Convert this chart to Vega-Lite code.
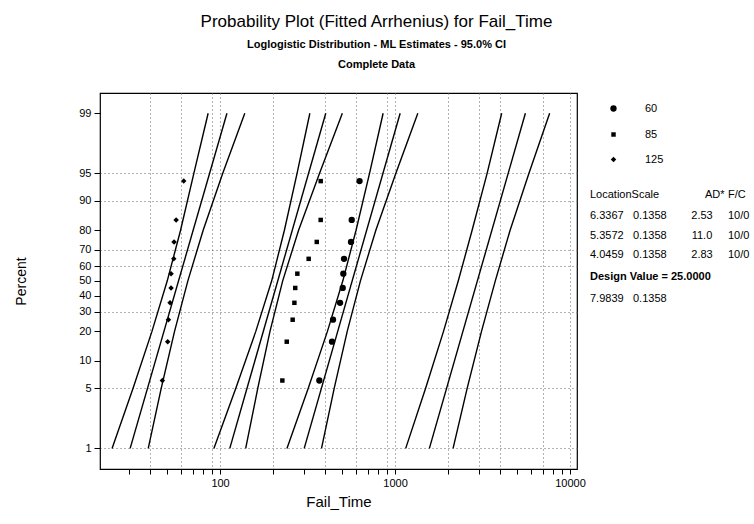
{
  "$schema": "https://vega.github.io/schema/vega-lite/v6.json",
  "width": 477,
  "height": 376,
  "autosize": {"type": "none"},
  "padding": {"left": 100, "top": 93, "right": 177, "bottom": 55},
  "background": "white",
  "title": {
    "text": "Probability Plot (Fitted Arrhenius) for Fail_Time",
    "subtitle": ["Loglogistic Distribution - ML Estimates - 95.0% CI", "Complete Data"],
    "anchor": "middle",
    "frame": "group",
    "dx": 38,
    "offset": 22,
    "font": "Liberation Sans",
    "fontSize": 17,
    "fontWeight": "normal",
    "color": "black",
    "subtitleFont": "Liberation Sans",
    "subtitleFontSize": 11,
    "subtitleFontWeight": "bold",
    "subtitleColor": "black",
    "subtitleLineHeight": 20,
    "subtitlePadding": 8
  },
  "datasets": {
    "pts": [
      {"stress": "125", "time": 46.8, "pct": 6.10},
      {"stress": "125", "time": 50.2, "pct": 15.85},
      {"stress": "125", "time": 50.7, "pct": 25.61},
      {"stress": "125", "time": 51.8, "pct": 35.37},
      {"stress": "125", "time": 52.5, "pct": 45.12},
      {"stress": "125", "time": 52.5, "pct": 54.88},
      {"stress": "125", "time": 54.4, "pct": 64.63},
      {"stress": "125", "time": 54.6, "pct": 74.39},
      {"stress": "125", "time": 56.1, "pct": 84.15},
      {"stress": "125", "time": 62.0, "pct": 93.90},
      {"stress": "85", "time": 227, "pct": 6.10},
      {"stress": "85", "time": 240.5, "pct": 15.85},
      {"stress": "85", "time": 260, "pct": 25.61},
      {"stress": "85", "time": 266, "pct": 35.37},
      {"stress": "85", "time": 269, "pct": 45.12},
      {"stress": "85", "time": 276.5, "pct": 54.88},
      {"stress": "85", "time": 321, "pct": 64.63},
      {"stress": "85", "time": 357, "pct": 74.39},
      {"stress": "85", "time": 376, "pct": 84.15},
      {"stress": "85", "time": 376, "pct": 93.90},
      {"stress": "60", "time": 369.4, "pct": 6.10},
      {"stress": "60", "time": 436.5, "pct": 15.85},
      {"stress": "60", "time": 442.3, "pct": 25.61},
      {"stress": "60", "time": 485.1, "pct": 35.37},
      {"stress": "60", "time": 502.5, "pct": 45.12},
      {"stress": "60", "time": 506.5, "pct": 54.88},
      {"stress": "60", "time": 511.2, "pct": 64.63},
      {"stress": "60", "time": 560.5, "pct": 74.39},
      {"stress": "60", "time": 565.7, "pct": 84.15},
      {"stress": "60", "time": 626.9, "pct": 93.90}
    ],
    "lines": [
      {"series": "125 lower", "time": 24.14, "pct": 1},
      {"series": "125 lower", "time": 31.83, "pct": 5},
      {"series": "125 lower", "time": 40.81, "pct": 20},
      {"series": "125 lower", "time": 49.92, "pct": 50},
      {"series": "125 lower", "time": 59.47, "pct": 80},
      {"series": "125 lower", "time": 70.83, "pct": 95},
      {"series": "125 lower", "time": 85.5, "pct": 99},
      {"series": "125 fit", "time": 30.63, "pct": 1},
      {"series": "125 fit", "time": 109.5, "pct": 99},
      {"series": "125 upper", "time": 38.86, "pct": 1},
      {"series": "125 upper", "time": 46.13, "pct": 5},
      {"series": "125 upper", "time": 54.94, "pct": 20},
      {"series": "125 upper", "time": 65.46, "pct": 50},
      {"series": "125 upper", "time": 80.07, "pct": 80},
      {"series": "125 upper", "time": 103.5, "pct": 95},
      {"series": "125 upper", "time": 138.5, "pct": 99},
      {"series": "85 lower", "time": 92.2, "pct": 1},
      {"series": "85 lower", "time": 123.05, "pct": 5},
      {"series": "85 lower", "time": 160.05, "pct": 20},
      {"series": "85 lower", "time": 197.3, "pct": 50},
      {"series": "85 lower", "time": 233.2, "pct": 80},
      {"series": "85 lower", "time": 275.5, "pct": 95},
      {"series": "85 lower", "time": 326.0, "pct": 99},
      {"series": "85 fit", "time": 113.66, "pct": 1},
      {"series": "85 fit", "time": 402.0, "pct": 99},
      {"series": "85 upper", "time": 140.1, "pct": 1},
      {"series": "85 upper", "time": 164.35, "pct": 5},
      {"series": "85 upper", "time": 192.9, "pct": 20},
      {"series": "85 upper", "time": 228.0, "pct": 50},
      {"series": "85 upper", "time": 281.1, "pct": 80},
      {"series": "85 upper", "time": 370.0, "pct": 95},
      {"series": "85 upper", "time": 500.0, "pct": 99},
      {"series": "60 lower", "time": 241.1, "pct": 1},
      {"series": "60 lower", "time": 319.2, "pct": 5},
      {"series": "60 lower", "time": 410.8, "pct": 20},
      {"series": "60 lower", "time": 503.2, "pct": 50},
      {"series": "60 lower", "time": 598.7, "pct": 80},
      {"series": "60 lower", "time": 715.0, "pct": 95},
      {"series": "60 lower", "time": 855.0, "pct": 99},
      {"series": "60 fit", "time": 302.7, "pct": 1},
      {"series": "60 fit", "time": 1070.0, "pct": 99},
      {"series": "60 upper", "time": 380.1, "pct": 1},
      {"series": "60 upper", "time": 449.4, "pct": 5},
      {"series": "60 upper", "time": 533.1, "pct": 20},
      {"series": "60 upper", "time": 634.3, "pct": 50},
      {"series": "60 upper", "time": 776.9, "pct": 80},
      {"series": "60 upper", "time": 1010.0, "pct": 95},
      {"series": "60 upper", "time": 1350.0, "pct": 99},
      {"series": "25 lower", "time": 1150.7, "pct": 1},
      {"series": "25 lower", "time": 1495.6, "pct": 5},
      {"series": "25 lower", "time": 1892.5, "pct": 20},
      {"series": "25 lower", "time": 2299.5, "pct": 50},
      {"series": "25 lower", "time": 2757.8, "pct": 80},
      {"series": "25 lower", "time": 3360.0, "pct": 95},
      {"series": "25 lower", "time": 4070.0, "pct": 99},
      {"series": "25 fit", "time": 1571.7, "pct": 1},
      {"series": "25 fit", "time": 5560.0, "pct": 99},
      {"series": "25 upper", "time": 2146.8, "pct": 1},
      {"series": "25 upper", "time": 2585.5, "pct": 5},
      {"series": "25 upper", "time": 3120.2, "pct": 20},
      {"series": "25 upper", "time": 3741.7, "pct": 50},
      {"series": "25 upper", "time": 4546.9, "pct": 80},
      {"series": "25 upper", "time": 5820.0, "pct": 95},
      {"series": "25 upper", "time": 7650.0, "pct": 99}
    ]
  },
  "layer": [
    {
      "data": {"name": "lines"},
      "transform": [{"calculate": "log(datum.pct/(100-datum.pct))", "as": "z"}],
      "mark": {"type": "line", "color": "black", "strokeWidth": 1.4},
      "encoding": {
        "x": {
          "field": "time", "type": "quantitative",
          "scale": {"type": "log", "domain": [20.6, 10965], "nice": false},
          "axis": {
            "title": "Fail_Time",
            "values": [30,40,50,60,70,80,90,100,200,300,400,500,600,700,800,900,1000,2000,3000,4000,5000,6000,7000,8000,9000,10000],
            "tickCount": 60,
            "labelExpr": "(datum.value==100||datum.value==1000||datum.value==10000)?format(datum.value,'d'):''",
            "labelOverlap": false,
            "labelFontSize": 11,
            "labelPadding": 3,
            "tickSize": 5,
            "domain": false,
            "grid": true,
            "gridDash": [1, 3],
            "gridColor": "#666666",
            "gridOpacity": {"condition": {"test": "indexof([40,60,90,100,200,400,600,900,1000,2000,3000,4000,7000,10000], datum.value) >= 0", "value": 1}, "value": 0},
            "titleFontSize": 15,
            "titleFontWeight": "normal",
            "titlePadding": 6
          }
        },
        "y": {
          "field": "z", "type": "quantitative",
          "scale": {"domain": [-5.16, 5.15], "nice": false, "zero": false},
          "axis": {
            "title": "Percent",
            "values": [-4.59512,-2.94444,-2.19722,-1.38629,-0.8473,-0.40547,0,0.40547,0.8473,1.38629,2.19722,2.94444,4.59512],
            "tickCount": 60,
            "labelExpr": "format(100/(1+exp(-datum.value)),'.0f')",
            "labelOverlap": false,
            "labelFontSize": 11,
            "labelPadding": 3,
            "tickSize": 6,
            "domain": false,
            "grid": true,
            "gridDash": [1, 3],
            "gridColor": "#666666",
            "gridOpacity": {"condition": {"test": "indexof([1,5,30,60,70,90,95], round(100/(1+exp(-datum.value)))) >= 0", "value": 1}, "value": 0},
            "titleFontSize": 14,
            "titleFontWeight": "normal",
            "titlePadding": 50
          }
        },
        "detail": {"field": "series", "type": "nominal"},
        "order": {"field": "pct", "type": "quantitative"}
      }
    },
    {
      "data": {"name": "pts"},
      "transform": [{"calculate": "log(datum.pct/(100-datum.pct))", "as": "z"}],
      "mark": {"type": "point", "filled": true, "color": "black", "opacity": 1},
      "encoding": {
        "x": {"field": "time", "type": "quantitative"},
        "y": {"field": "z", "type": "quantitative"},
        "shape": {
          "field": "stress", "type": "nominal",
          "scale": {"type": "ordinal", "domain": ["60", "85", "125"], "range": ["circle", "square", "diamond"]},
          "legend": {"title": null, "orient": "none", "legendX": 508, "legendY": 10, "labelFontSize": 11, "labelOffset": 26, "rowPadding": 13, "padding": 0}
        },
        "size": {
          "field": "stress", "type": "nominal",
          "scale": {"type": "ordinal", "domain": ["60", "85", "125"], "range": [40, 20, 30]},
          "legend": {"title": null, "orient": "none", "legendX": 508, "legendY": 10, "labelFontSize": 11, "labelOffset": 26, "rowPadding": 13, "padding": 0}
        }
      }
    },
    {"data": {"values": [{}]}, "mark": {"type": "text", "text": "LocationScale", "x": 490, "y": 102, "align": "left", "baseline": "middle", "fontSize": 11, "color": "black"}},
    {"data": {"values": [{}]}, "mark": {"type": "text", "text": "AD*", "x": 605, "y": 102, "align": "left", "baseline": "middle", "fontSize": 11, "color": "black"}},
    {"data": {"values": [{}]}, "mark": {"type": "text", "text": "F/C", "x": 628, "y": 102, "align": "left", "baseline": "middle", "fontSize": 11, "color": "black"}},
    {"data": {"values": [{}]}, "mark": {"type": "text", "text": ["6.3367", "5.3572", "4.0459"], "lineHeight": 19.5, "x": 490, "y": 117, "align": "left", "baseline": "top", "fontSize": 11, "color": "black"}},
    {"data": {"values": [{}]}, "mark": {"type": "text", "text": ["0.1358", "0.1358", "0.1358"], "lineHeight": 19.5, "x": 533, "y": 117, "align": "left", "baseline": "top", "fontSize": 11, "color": "black"}},
    {"data": {"values": [{}]}, "mark": {"type": "text", "text": ["2.53", "11.0", "2.83"], "lineHeight": 19.5, "x": 602, "y": 117, "align": "center", "baseline": "top", "fontSize": 11, "color": "black"}},
    {"data": {"values": [{}]}, "mark": {"type": "text", "text": ["10/0", "10/0", "10/0"], "lineHeight": 19.5, "x": 628, "y": 117, "align": "left", "baseline": "top", "fontSize": 11, "color": "black"}},
    {"data": {"values": [{}]}, "mark": {"type": "text", "text": "Design Value = 25.0000", "x": 490, "y": 184, "align": "left", "baseline": "middle", "fontSize": 11, "fontWeight": "bold", "color": "black"}},
    {"data": {"values": [{}]}, "mark": {"type": "text", "text": "7.9839", "x": 490, "y": 206, "align": "left", "baseline": "middle", "fontSize": 11, "color": "black"}},
    {"data": {"values": [{}]}, "mark": {"type": "text", "text": "0.1358", "x": 533, "y": 206, "align": "left", "baseline": "middle", "fontSize": 11, "color": "black"}}
  ],
  "config": {
    "font": "Liberation Sans",
    "view": {"stroke": "black", "strokeWidth": 1.2},
    "axis": {"labelColor": "black", "titleColor": "black", "tickColor": "black", "labelFont": "Liberation Sans", "titleFont": "Liberation Sans"},
    "legend": {"labelColor": "black", "labelFont": "Liberation Sans"},
    "text": {"font": "Liberation Sans"}
  }
}
